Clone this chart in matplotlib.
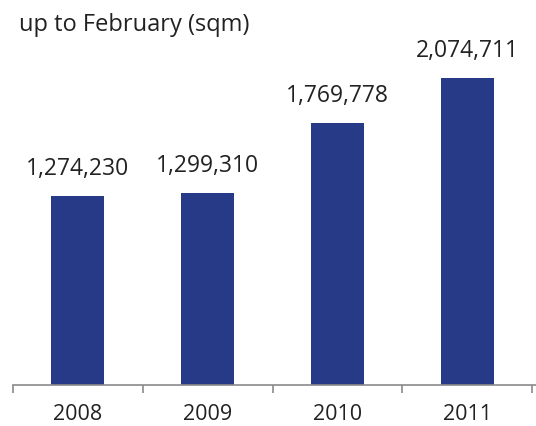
import matplotlib
matplotlib.use("Agg")
import matplotlib.pyplot as plt

years = ["2008", "2009", "2010", "2011"]
values = [1274230, 1299310, 1769778, 2074711]
title = "up to February (sqm)"

plt.rcParams['font.family'] = ['Open Sans', 'DejaVu Sans']

fig = plt.figure(figsize=(5.36, 4.26), dpi=100)
ax = fig.add_axes([13/536, 41/426, 523/536, 370/426])
x = list(range(len(years)))
bars = ax.bar(x, values, width=0.41, color='#263a88', zorder=2)
ax.set_xlim(-0.5, 3.53)
ax.set_ylim(0, 2500000)
for xi, v in zip(x, values):
    ax.annotate(f"{v:,}", (xi, v), xytext=(0, 19.5), textcoords='offset points',
                ha='center', va='center', fontsize=16.5, color='#222222')
for s in ['top', 'right', 'left']:
    ax.spines[s].set_visible(False)
ax.spines['bottom'].set_color('#8a8a8a')
ax.spines['bottom'].set_linewidth(1.2)
ax.set_yticks([])
ax.set_xticks(x)
ax.set_xticklabels(years, fontsize=15.5, color='#222222')
ax.tick_params(axis='x', which='major', length=0, pad=14)
ax.set_xticks([-0.5, 0.5, 1.5, 2.5, 3.5], minor=True)
ax.tick_params(axis='x', which='minor', length=6, width=1.2, color='#8a8a8a')
fig.text(19/536, 1 - 25/426, title, fontsize=17, color='#222222', ha='left', va='center')
fig.savefig("out.png", dpi=100)
